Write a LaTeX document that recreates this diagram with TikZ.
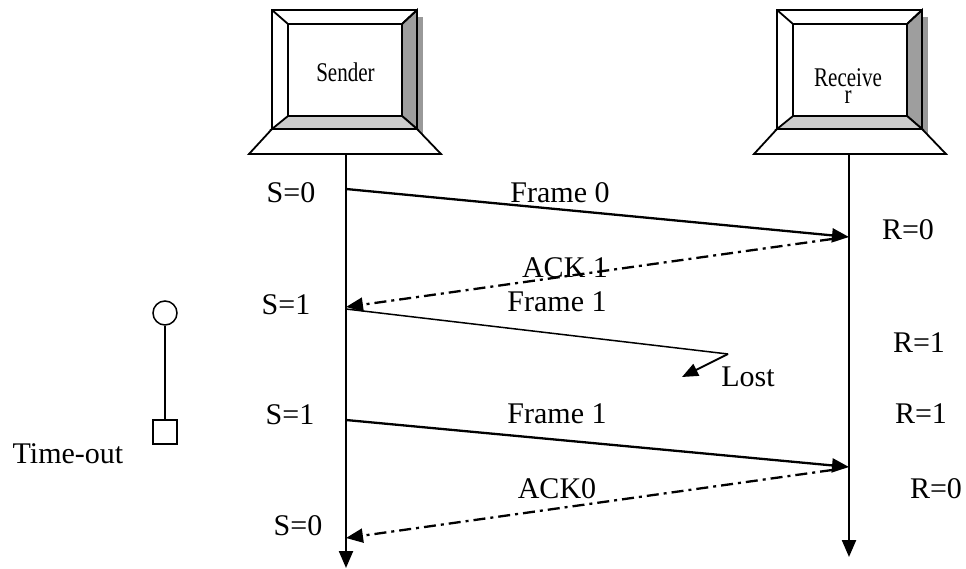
\documentclass[tikz,border=0pt]{standalone}
\usepackage{fontspec}
\setmainfont{Liberation Serif}
\usetikzlibrary{arrows.meta}

\tikzset{
  lbl/.style={font=\fontsize{30}{32}\selectfont, inner sep=0pt, anchor=base},
  pclbl/.style={font=\fontsize{27}{28}\selectfont, inner sep=0pt, anchor=base},
  edge/.style={line width=1.8pt, line join=miter},
  tip/.style={-{Triangle[length=17pt,width=14pt]}},
  timeline/.style={line width=2.3pt, tip},
  frame/.style={line width=2.3pt, tip},
  thinframe/.style={line width=1.5pt},
  ack/.style={line width=2.3pt, dash pattern=on 12pt off 5pt on 3pt off 5pt, tip},
}

% a monitor with bevelled screen, drop shadow and keyboard
\newcommand{\pcicon}[1]{%
  \begin{scope}[shift={(#1,0)}]
    \fill[black!40] (6,17) rectangle (151,136);
    \filldraw[fill=white, edge] (0,10) rectangle (145,129);
    \filldraw[fill=black!38, edge] (130,24) -- (145,10) -- (145,129) -- (130,116) -- cycle;
    \filldraw[fill=black!20, edge] (16,116) -- (130,116) -- (145,129) -- (0,129) -- cycle;
    \filldraw[fill=white, edge] (16,24) rectangle (130,116);
    \draw[edge] (0,10) -- (16,24) (145,10) -- (130,24);
    \filldraw[fill=white, edge] (0,129) -- (145,129) -- (169,154) -- (-23,154) -- cycle;
  \end{scope}}

\begin{document}
\begin{tikzpicture}[x=1pt, y=-1pt]
  \useasboundingbox (0,0) rectangle (966,569);

  % computers
  \pcicon{272}
  \pcicon{777}
  \node[pclbl] (sender) at (345.5,82) {\scalebox{0.78}[1]{Sender}};
  \node[pclbl] (recv1) at (848,87) {\scalebox{0.78}[1]{Receive}};
  \node[pclbl] (recv2) at (848,104) {\scalebox{0.78}[1]{r}};

  % timelines
  \coordinate (sTop) at (346,154);
  \coordinate (sBot) at (346,568);
  \coordinate (rTop) at (849,154);
  \coordinate (rBot) at (849,557);
  \draw[timeline] (sTop) -- (sBot);
  \draw[timeline] (rTop) -- (rBot);

  % event points on the timelines
  \coordinate (s0) at (346,189);
  \coordinate (r0) at (849,237);
  \coordinate (a1s) at (832,239);
  \coordinate (s1) at (346,307);
  \coordinate (f1s) at (346,309);
  \coordinate (lostA) at (728,354);
  \coordinate (lostB) at (682,377);
  \coordinate (s2) at (346,420);
  \coordinate (r2) at (849,467);
  \coordinate (a0s) at (832,470);
  \coordinate (s3) at (346,538);

  % messages
  \draw[frame] (s0) -- (r0);
  \draw[ack] (a1s) -- (s1);
  \draw[thinframe] (f1s) -- (lostA);
  \draw[line width=1.8pt, -{Triangle[length=16pt,width=13pt]}] (lostA) -- (lostB);
  \draw[frame] (s2) -- (r2);
  \draw[ack] (a0s) -- (s3);

  % message labels
  \node[lbl] (lf0) at (560,203) {Frame 0};
  \node[lbl] (la1) at (565,277) {ACK 1};
  \node[lbl] (lf1) at (557,312) {Frame 1};
  \node[lbl] (llost) at (748,386) {Lost};
  \node[lbl] (lf1b) at (557,423) {Frame 1};
  \node[lbl] (la0) at (557,498) {ACK0};

  % sender states
  \node[lbl] (ss0) at (291,203) {S=0};
  \node[lbl] (ss1) at (286,314) {S=1};
  \node[lbl] (ss2) at (290,424) {S=1};
  \node[lbl] (ss3) at (298,535) {S=0};

  % receiver states
  \node[lbl] (rs0) at (908,240) {R=0};
  \node[lbl] (rs1) at (919,352) {R=1};
  \node[lbl] (rs2) at (921,423) {R=1};
  \node[lbl] (rs3) at (936,498) {R=0};

  % time-out timer
  \node[draw, circle, line width=1.5pt, minimum size=24pt, inner sep=0pt] (tstart) at (165,313) {};
  \node[draw, rectangle, line width=1.5pt, minimum size=24pt, inner sep=0pt] (tend) at (165,432) {};
  \draw[line width=1.5pt] (tstart) -- (tend);
  \node[lbl] (tout) at (68,463) {Time-out};
\end{tikzpicture}
\end{document}
